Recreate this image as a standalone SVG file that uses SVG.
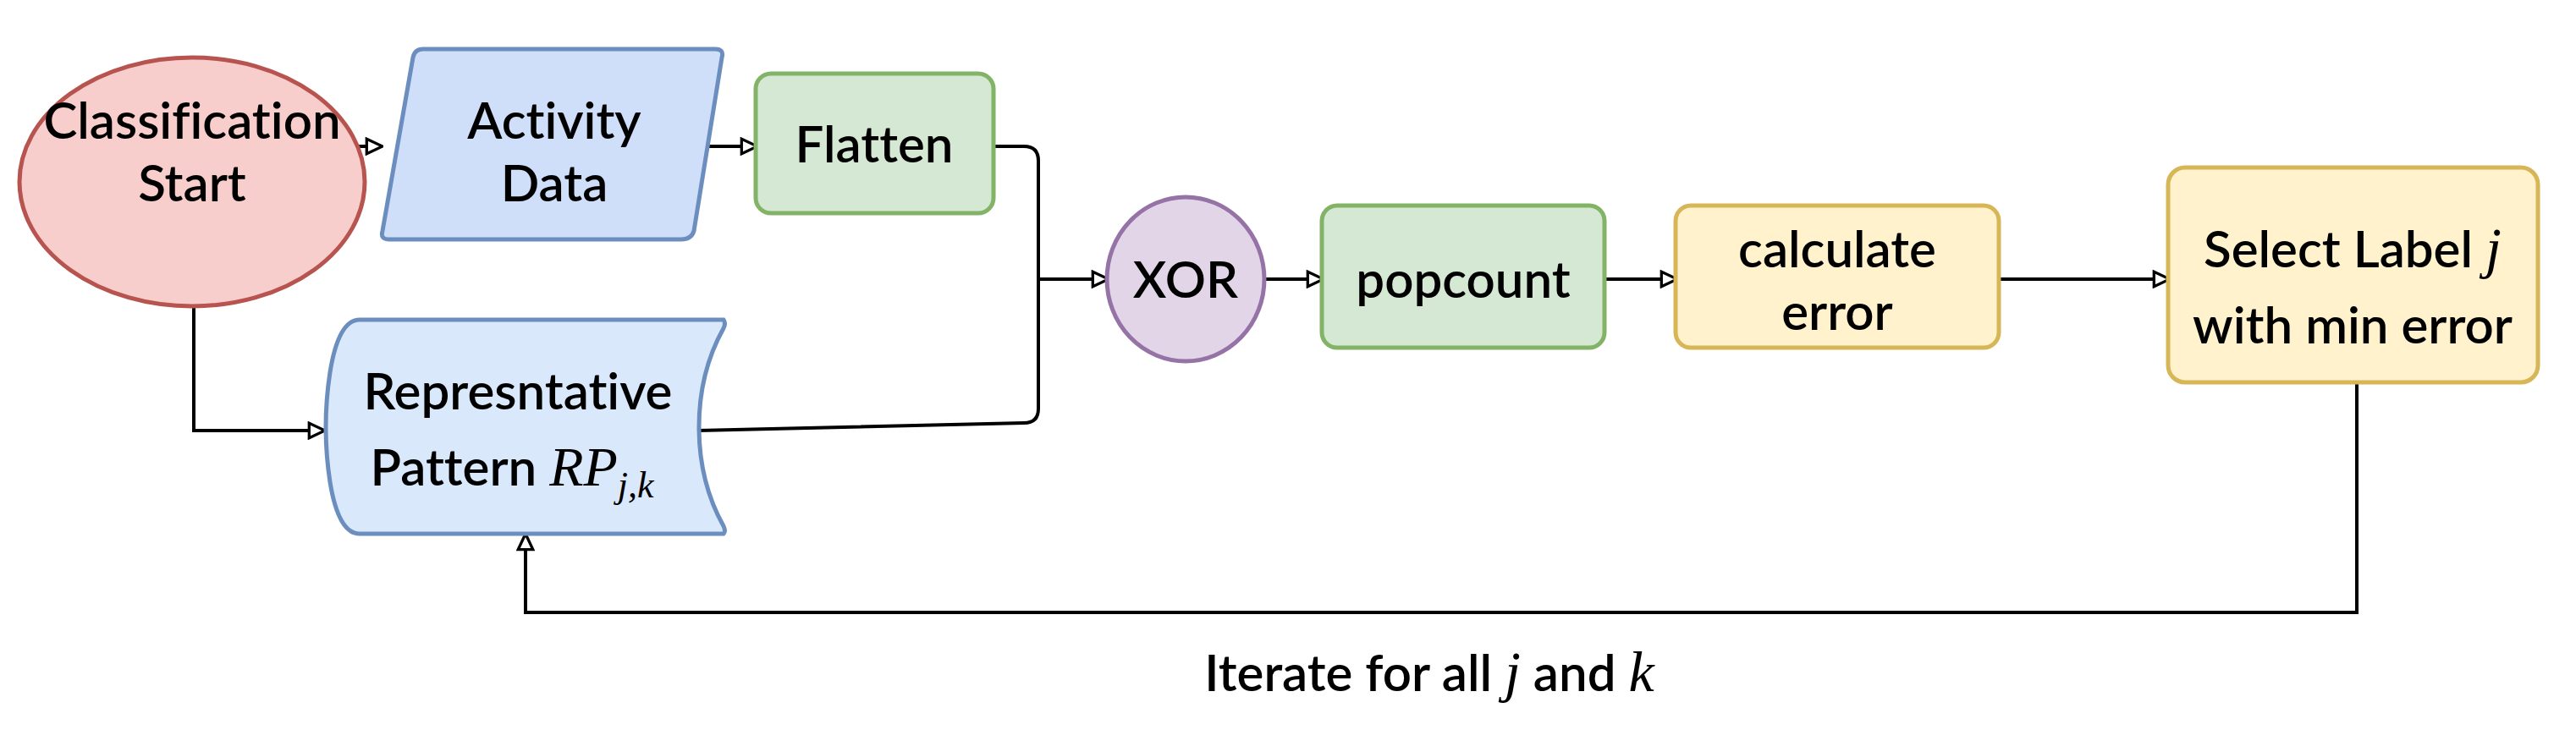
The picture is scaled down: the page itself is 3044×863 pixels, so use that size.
<svg xmlns="http://www.w3.org/2000/svg" width="3044" height="863" viewBox="0 0 3044 863">
<style>
.t{font-family:Lato,"Open Sans",sans-serif;font-size:60px;font-weight:600;fill:#000;text-anchor:middle;font-variant-ligatures:none}
.m{font-family:"Liberation Serif",serif;font-style:italic;font-weight:normal}
.c{fill:none;stroke:#000;stroke-width:4}
</style>
<defs>
<marker id="a" viewBox="0 0 20 20" refX="19" refY="10" markerWidth="22" markerHeight="22" markerUnits="userSpaceOnUse" orient="auto">
<path d="M2,2 L19,10 L2,18 Z" fill="#fff" stroke="#000" stroke-width="3"/>
</marker>
</defs>
<rect width="3044" height="863" fill="#fff"/>
<g id="connectors">
<path class="c" d="M422,173 H452" marker-end="url(#a)"/>
<path class="c" d="M835,173 H895" marker-end="url(#a)"/>
<path class="c" d="M1174,173 H1210 Q1227,173 1227,190 V483 Q1227,500 1210,500 L825,509"/>
<path class="c" d="M1227,330 H1310" marker-end="url(#a)"/>
<path class="c" d="M229,363 V509 H384" marker-end="url(#a)"/>
<path class="c" d="M1494,330 H1564" marker-end="url(#a)"/>
<path class="c" d="M1896,330 H1982" marker-end="url(#a)"/>
<path class="c" d="M2362,330 H2564" marker-end="url(#a)"/>
<path class="c" d="M2785,452 V724 H621 V631" marker-end="url(#a)"/>
</g>
<g id="start">
<ellipse cx="227" cy="215" rx="204" ry="147" fill="#f8cecc" stroke="#b85450" stroke-width="5"/>
<text class="t" x="227" y="164">Classification</text>
<text class="t" x="227" y="238">Start</text>
</g>
<g id="activity">
<path d="M500,58 H845 Q856,58 853,68 L820,273 Q817,283 805,283 H460 Q449,283 452,273 L488,68 Q490,58 500,58 Z" fill="#cfdffa" stroke="#6c8ebf" stroke-width="5"/>
<text class="t" x="655" y="164">Activity</text>
<text class="t" x="655" y="238">Data</text>
</g>
<g id="flatten">
<rect x="893" y="87" width="281" height="165" rx="18" fill="#d5e8d4" stroke="#82b366" stroke-width="5"/>
<text class="t" x="1033" y="192">Flatten</text>
</g>
<g id="rep">
<path d="M425,378 H855 Q858,382 855,388 Q826,440 826,505 Q826,570 855,622 Q858,628 855,631 H425 Q400,631 390,570 Q380,505 390,440 Q400,378 425,378 Z" fill="#dae8fc" stroke="#6c8ebf" stroke-width="5"/>
<text class="t" x="612" y="484">Represntative</text>
<text class="t" x="605" y="574">Pattern <tspan class="m" font-size="66">RP</tspan><tspan class="m" font-size="44" dy="14">j,k</tspan></text>
</g>
<g id="xor">
<ellipse cx="1401" cy="330" rx="93" ry="97" fill="#e1d5e7" stroke="#9673a6" stroke-width="5"/>
<text class="t" x="1401" y="352">XOR</text>
</g>
<g id="popcount">
<rect x="1562" y="243" width="334" height="168" rx="18" fill="#d5e8d4" stroke="#82b366" stroke-width="5"/>
<text class="t" x="1729" y="352">popcount</text>
</g>
<g id="calc">
<rect x="1980" y="243" width="382" height="168" rx="18" fill="#fff2cc" stroke="#d6b656" stroke-width="5"/>
<text class="t" x="2171" y="316">calculate</text>
<text class="t" x="2171" y="390">error</text>
</g>
<g id="select">
<rect x="2562" y="198" width="437" height="254" rx="20" fill="#fff2cc" stroke="#d6b656" stroke-width="5"/>
<text class="t" x="2780" y="316">Select Label <tspan class="m" font-size="68">j</tspan></text>
<text class="t" x="2780" y="406">with min error</text>
</g>
<text class="t" x="1689" y="817">Iterate for all <tspan class="m" font-size="68">j</tspan> and <tspan class="m" font-size="68">k</tspan></text>
</svg>
